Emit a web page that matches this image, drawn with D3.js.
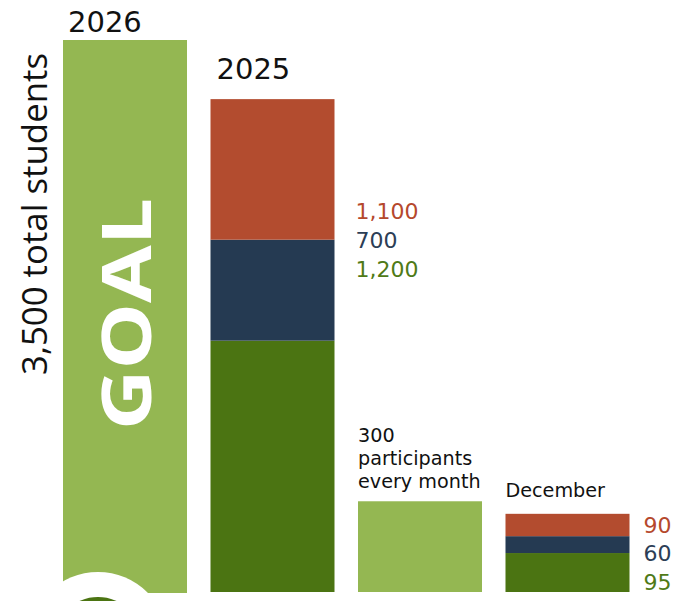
<!DOCTYPE html>
<html>
<head>
<meta charset="utf-8">
<script src="https://cdn.jsdelivr.net/npm/d3@7"></script>
<style>
  body { margin: 0; background: #fff; }
  svg { display: block; font-family: "DejaVu Sans", sans-serif; }
</style>
</head>
<body>
<div id="chart"></div>
<script>
// The data
var columns = ["2026", "2025", "monthly", "December"];
var goalStudents = 3500;
var segments2025 = [1200, 700, 1100];      // bottom to top
var monthlyParticipants = 300;
var segmentsDecember = [95, 60, 90];       // bottom to top
var segmentColors = ["#4b7412", "#253a52", "#b34c2f"];
var labelColors = ["#4f7a17", "#2c3e56", "#b5482c"];
var goalColor = "#94b752";

var width = 688, height = 601, baseline = 592;
var fmt = d3.format(",");

var svg = d3.select("#chart")
  .append("svg")
    .attr("width", width)
    .attr("height", height);

// Columns
var x = d3.scaleBand()
  .domain(columns)
  .range([63, 629.5])
  .paddingInner(0.1593)
  .paddingOuter(0);

// Infographic heights are not linear, a power scale fits them
var y = d3.scalePow()
  .exponent(0.735)
  .domain([0, goalStudents])
  .range([baseline, 40]);

// Stack helper: returns [{value, y0, y1, i}]
function stackUp(values) {
  var sums = d3.cumsum(values);
  return values.map(function(v, i) {
    return { value: v, y0: sums[i] - v, y1: sums[i], i: i };
  });
}

// Goal bar
svg.append("rect")
  .attr("x", x("2026"))
  .attr("y", y(goalStudents))
  .attr("width", x.bandwidth())
  .attr("height", baseline + 1 - y(goalStudents))
  .attr("fill", goalColor);

// 2025 stacked bar
svg.append("g").selectAll("rect")
  .data(stackUp(segments2025))
  .join("rect")
    .attr("x", x("2025"))
    .attr("y", function(d) { return y(d.y1); })
    .attr("width", x.bandwidth())
    .attr("height", function(d) { return y(d.y0) - y(d.y1); })
    .attr("fill", function(d) { return segmentColors[d.i]; });

// Monthly bar
svg.append("rect")
  .attr("x", x("monthly"))
  .attr("y", y(monthlyParticipants))
  .attr("width", x.bandwidth())
  .attr("height", y(0) - y(monthlyParticipants))
  .attr("fill", goalColor);

// December stacked bar
svg.append("g").selectAll("rect")
  .data(stackUp(segmentsDecember))
  .join("rect")
    .attr("x", x("December"))
    .attr("y", function(d) { return y(d.y1); })
    .attr("width", x.bandwidth())
    .attr("height", function(d) { return y(d.y0) - y(d.y1); })
    .attr("fill", function(d) { return segmentColors[d.i]; });

// Logo remnant at the bottom left
var cx = x("2026") + 35;
svg.append("circle").attr("cx", cx).attr("cy", 642).attr("r", 70).attr("fill", "#fff");
svg.append("circle").attr("cx", cx).attr("cy", 642).attr("r", 45).attr("fill", "#4b7412");

// Year labels
svg.append("text")
  .attr("x", x("2026") + 5)
  .attr("y", y(goalStudents) - 8)
  .attr("font-size", 29)
  .attr("fill", "#111")
  .text("2026");

var total2025 = d3.sum(segments2025);
svg.append("text")
  .attr("x", x("2025") + 6)
  .attr("y", y(total2025) - 20)
  .attr("font-size", 29)
  .attr("fill", "#111")
  .text("2025");

// Rotated side title
svg.append("text")
  .attr("transform", "translate(47," + 214 + ") rotate(-90)")
  .attr("text-anchor", "middle")
  .attr("font-family", "Open Sans, sans-serif")
  .attr("font-size", 34)
  .attr("textLength", 322)
  .attr("lengthAdjust", "spacingAndGlyphs")
  .attr("fill", "#111")
  .text(fmt(goalStudents) + " total students");

// GOAL inside the bar
svg.append("text")
  .attr("transform", "translate(" + (x("2026") + x.bandwidth() / 2 + 26) + ",314) rotate(-90)")
  .attr("text-anchor", "middle")
  .attr("font-family", "Open Sans, sans-serif")
  .attr("font-size", 68)
  .attr("font-weight", 700)
  .attr("textLength", 232)
  .attr("lengthAdjust", "spacingAndGlyphs")
  .attr("fill", "#fff")
  .text("GOAL");

// 2025 value labels (top to bottom: red, navy, green)
var mid2025 = y(segments2025[0] + segments2025[1]);
svg.append("g").selectAll("text")
  .data(stackUp(segments2025).reverse())
  .join("text")
    .attr("x", x("2025") + x.bandwidth() + 21)
    .attr("y", function(d, k) { return mid2025 - 28 + k * 29; })
    .attr("dy", "0.35em")
    .attr("font-size", 22)
    .attr("fill", function(d) { return labelColors[d.i]; })
    .text(function(d) { return fmt(d.value); });

// Monthly label
var monthlyLines = [fmt(monthlyParticipants), "participants", "every month"];
svg.append("g").selectAll("text")
  .data(monthlyLines)
  .join("text")
    .attr("x", x("monthly"))
    .attr("y", function(d, k) { return y(monthlyParticipants) - 66 + k * 23; })
    .attr("dy", "0.35em")
    .attr("font-size", 19.2)
    .attr("fill", "#111")
    .text(function(d) { return d; });

// December label
svg.append("text")
  .attr("x", x("December"))
  .attr("y", y(d3.sum(segmentsDecember)) - 24)
  .attr("dy", "0.35em")
  .attr("font-size", 19.2)
  .attr("fill", "#111")
  .text("December");

// December value labels
svg.append("g").selectAll("text")
  .data(stackUp(segmentsDecember))
  .join("text")
    .attr("x", x("December") + x.bandwidth() + 14)
    .attr("y", function(d) { return y(0) - 10 - d.i * 28.5; })
    .attr("dy", "0.35em")
    .attr("font-size", 22)
    .attr("fill", function(d) { return labelColors[d.i]; })
    .text(function(d) { return fmt(d.value); });
</script>
</body>
</html>
